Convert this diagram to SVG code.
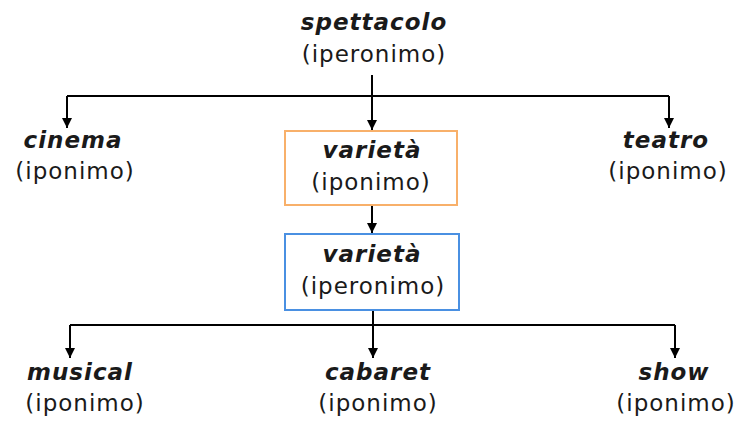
<svg xmlns="http://www.w3.org/2000/svg" width="740" height="421" viewBox="0 0 740 421">
<defs>
<marker id="ah" viewBox="0 0 10 10" refX="10" refY="5" markerWidth="10" markerHeight="10" markerUnits="userSpaceOnUse" orient="auto">
<path d="M0,0 L10,5 L0,10 z" fill="#000"/>
</marker>
<style>
.t{font-family:"DejaVu Sans",Verdana,sans-serif;font-size:23px;fill:#1a1a1a;text-anchor:middle;letter-spacing:1px}
.b{font-weight:bold;font-style:italic}
.c{fill:none;stroke:#000;stroke-width:2}
</style>
</defs>
<rect width="740" height="421" fill="#fff"/>
<g id="connectors">
<path class="c" d="M372,75 V96"/>
<path class="c" d="M67,96 H669"/>
<path class="c" d="M67,96 V128" marker-end="url(#ah)"/>
<path class="c" d="M372,96 V130" marker-end="url(#ah)"/>
<path class="c" d="M669,96 V128" marker-end="url(#ah)"/>
<path class="c" d="M372,206 V233" marker-end="url(#ah)"/>
<path class="c" d="M373,311 V325"/>
<path class="c" d="M70,325 H675"/>
<path class="c" d="M70,325 V358" marker-end="url(#ah)"/>
<path class="c" d="M373,325 V358" marker-end="url(#ah)"/>
<path class="c" d="M675,325 V358" marker-end="url(#ah)"/>
</g>
<g id="spettacolo">
<text class="t b" x="374" y="30">spettacolo</text>
<text class="t" x="374" y="62">(iperonimo)</text>
</g>
<g id="cinema">
<text class="t b" x="73" y="148">cinema</text>
<text class="t" x="75" y="179">(iponimo)</text>
</g>
<g id="varieta-iponimo">
<rect x="285" y="131" width="172" height="74" fill="#fff" stroke="#f8b06a" stroke-width="2"/>
<text class="t b" x="372" y="158">varietà</text>
<text class="t" x="371" y="190">(iponimo)</text>
</g>
<g id="teatro">
<text class="t b" x="666" y="148">teatro</text>
<text class="t" x="668" y="179">(iponimo)</text>
</g>
<g id="varieta-iperonimo">
<rect x="285" y="234" width="174" height="76" fill="#fff" stroke="#4a90e2" stroke-width="2"/>
<text class="t b" x="372" y="262">varietà</text>
<text class="t" x="373" y="294">(iperonimo)</text>
</g>
<g id="musical">
<text class="t b" x="80" y="380">musical</text>
<text class="t" x="85" y="411">(iponimo)</text>
</g>
<g id="cabaret">
<text class="t b" x="378" y="380">cabaret</text>
<text class="t" x="378" y="411">(iponimo)</text>
</g>
<g id="show">
<text class="t b" x="674" y="380">show</text>
<text class="t" x="676" y="411">(iponimo)</text>
</g>
</svg>
